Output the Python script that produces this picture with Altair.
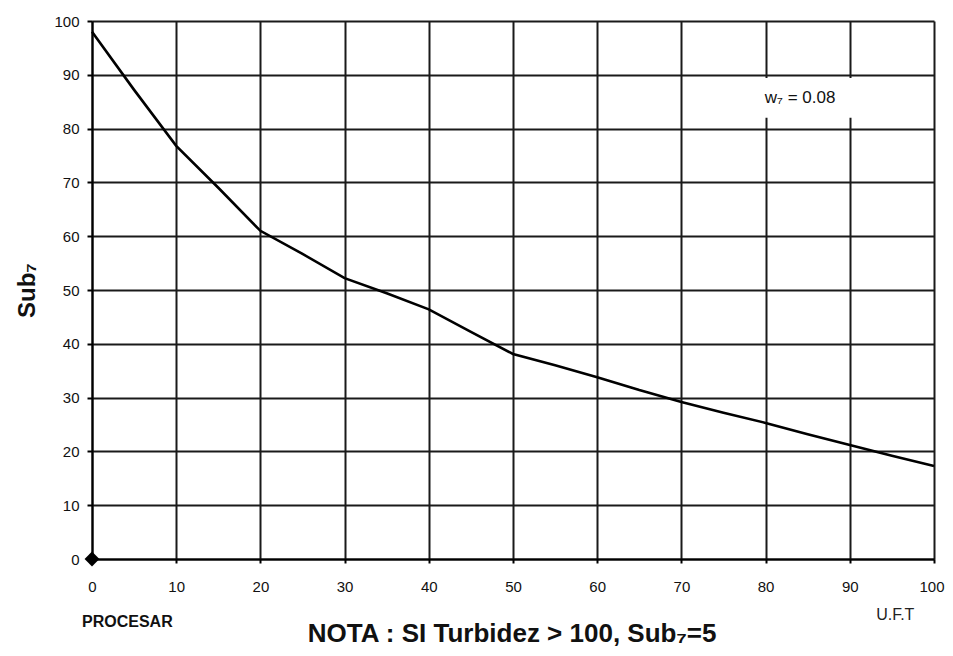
import altair as alt
import pandas as pd

# Curve values (U.F.T -> Sub7)
uft = [0, 5, 10, 15, 20, 25, 30, 35, 40, 45, 50, 55, 60, 65, 70, 75, 80, 85, 90, 95, 100]
sub7 = [98, 87.2, 76.8, 69, 61, 56.7, 52.2, 49.4, 46.4, 42.2, 38.1, 36, 33.8, 31.4, 29.2, 27.2, 25.3, 23.2, 21.2, 19.2, 17.3]

x_ticks = [0, 10, 20, 30, 40, 50, 60, 70, 80, 90, 100]
y_ticks = [0, 10, 20, 30, 40, 50, 60, 70, 80, 90, 100]

marker_x = [0]
marker_y = [0]

# annotation texts
label_small = ["PROCESAR"]
label_small_x = [4.2]
label_small_y = [-11.7]

label_unit = ["U.F.T"]
label_unit_x = [95.4]
label_unit_y = [-10.4]

note_text = ["NOTA : SI Turbidez > 100, Sub₇=5"]
note_x = [49.9]
note_y = [-13.9]

weight_text = ["w₇ = 0.08"]
weight_x = [84.1]
weight_y = [85.6]
box_x = [78.5]
box_x2 = [91.5]
box_y = [82.0]
box_y2 = [89.4]

FONT = "Liberation Sans"

curve = pd.DataFrame({"x": uft, "y": sub7})
marker = pd.DataFrame({"x": marker_x, "y": marker_y})
small_df = pd.DataFrame({"x": label_small_x, "y": label_small_y, "t": label_small})
unit_df = pd.DataFrame({"x": label_unit_x, "y": label_unit_y, "t": label_unit})
note_df = pd.DataFrame({"x": note_x, "y": note_y, "t": note_text})
w_df = pd.DataFrame({"x": weight_x, "y": weight_y, "t": weight_text})
box_df = pd.DataFrame({"x": box_x, "x2": box_x2, "y": box_y, "y2": box_y2})

xscale = alt.Scale(domain=[0, 100], nice=False, zero=False)
yscale = alt.Scale(domain=[0, 100], nice=False, zero=False)

xaxis = alt.Axis(values=x_ticks, title=None, grid=True, gridColor="#1a1a1a", gridWidth=2,
                 domainColor="#000", domainWidth=2, tickColor="#000", tickSize=4, tickWidth=2,
                 labelFont=FONT, labelFontSize=15, labelColor="#111", labelPadding=16,
                 labelFlush=False,
                 labelOffset={"condition": {"test": "datum.value == 100", "value": -2.5}, "value": 0})
yaxis = alt.Axis(values=y_ticks, title="Sub₇", grid=True, gridColor="#1a1a1a", gridWidth=2,
                 domainColor="#000", domainWidth=2, tickColor="#000", tickSize=5, tickWidth=2,
                 labelFont=FONT, labelFontSize=15, labelColor="#111", labelPadding=8,
                 titleFont=FONT, titleFontSize=24, titleFontWeight="bold", titleColor="#111",
                 titlePadding=14, labelFlush=False)

line = alt.Chart(curve).mark_line(color="#000", strokeWidth=2.6).encode(
    x=alt.X("x:Q", scale=xscale, axis=xaxis),
    y=alt.Y("y:Q", scale=yscale, axis=yaxis),
)

box = alt.Chart(box_df).mark_rect(fill="white").encode(
    x=alt.X("x:Q", scale=xscale), x2="x2:Q",
    y=alt.Y("y:Q", scale=yscale), y2="y2:Q",
)

pt = alt.Chart(marker).mark_point(shape="diamond", filled=True, color="#000", size=220, opacity=1).encode(
    x=alt.X("x:Q", scale=xscale), y=alt.Y("y:Q", scale=yscale)
)

small = alt.Chart(small_df).mark_text(font=FONT, fontSize=16, fontWeight="bold", color="#111").encode(
    x=alt.X("x:Q", scale=xscale), y=alt.Y("y:Q", scale=yscale), text="t:N"
)
unit = alt.Chart(unit_df).mark_text(font=FONT, fontSize=16, color="#222").encode(
    x=alt.X("x:Q", scale=xscale), y=alt.Y("y:Q", scale=yscale), text="t:N"
)
note = alt.Chart(note_df).mark_text(font=FONT, fontSize=26, fontWeight="bold", color="#111").encode(
    x=alt.X("x:Q", scale=xscale), y=alt.Y("y:Q", scale=yscale), text="t:N"
)
wtxt = alt.Chart(w_df).mark_text(font=FONT, fontSize=17, color="#111").encode(
    x=alt.X("x:Q", scale=xscale), y=alt.Y("y:Q", scale=yscale), text="t:N"
)

chart = alt.layer(box, line, pt, small, unit, note, wtxt).properties(
    width=842, height=538,
    autosize=alt.AutoSizeParams(type="none"),
    padding={"left": 84, "top": 13, "right": 11, "bottom": 89},
    background="white",
).configure_view(stroke=None)

chart.save("out.html", embed_options={"renderer": "svg", "actions": False})
